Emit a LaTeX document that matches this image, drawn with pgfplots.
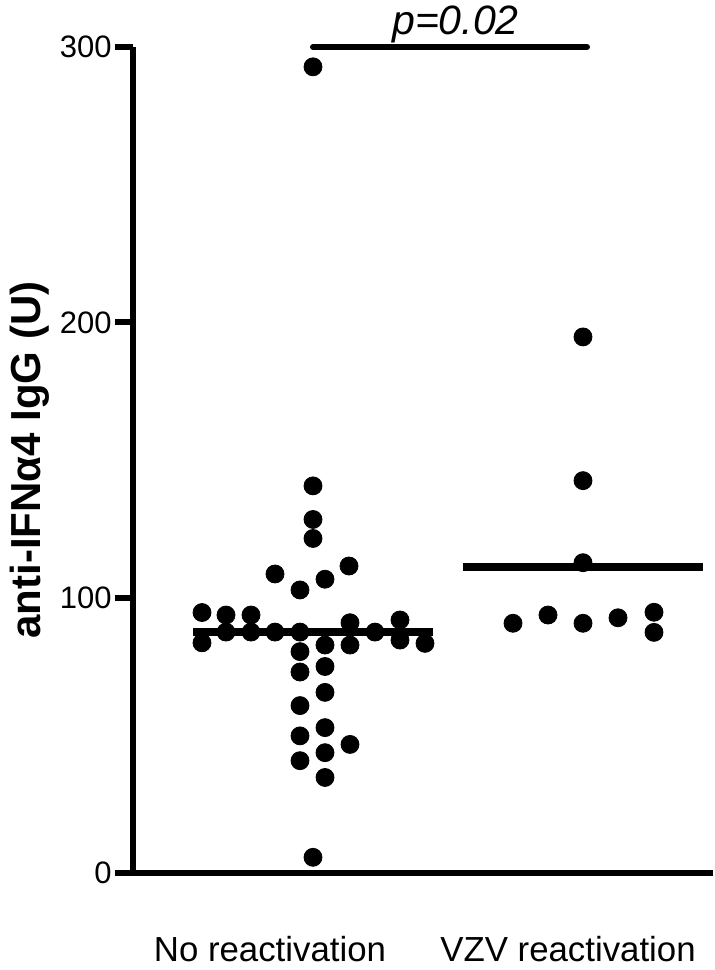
\documentclass[border=0pt]{standalone}
\usepackage{pgfplots}
\pgfplotsset{compat=1.18}
\usepackage{fontspec}
\setmainfont{Liberation Sans}
\begin{document}
\begin{tikzpicture}
\useasboundingbox (0,0) rectangle (357.5pt,485pt);
\begin{axis}[
  scale only axis, width=290pt, height=413pt,
  at={(66.5pt,48.5pt)}, anchor=south west,
  xmin=133, xmax=713, ymin=0, ymax=300,
  axis x line=bottom, axis y line=left,
  axis line style={line width=3pt, -},
  ytick={0,100,200,300},
  yticklabels={0,100,200,300},
  tick align=outside,
  major tick length=9pt,
  ytick style={line width=3pt, black},
  xtick={270,568},
  xticklabels={No reactivation, VZV reactivation},
  xtick style={draw=none},
  xticklabel style={font=\fontsize{17.4}{20}\selectfont, anchor=base, inner sep=0pt, yshift=-35pt},
  yticklabel style={font=\fontsize{15.5}{18}\selectfont, inner sep=0pt, xshift=-1.5pt},
  ylabel={\textbf{anti-IFNα4 IgG (U)}},
  ylabel style={font=\fontsize{21}{24}\selectfont, at={(axis description cs:-0.1776,0.5)}, anchor=center, rotate=0},
  clip=false,
]
% group 1 points
\addplot[only marks, mark=*, mark size=4.5pt, black] coordinates {
(313,292.8) (313,140.6) (313,128.4) (313,121.5)
(349,111.5) (275,108.6) (325,106.7) (300,102.8)
(202,94.6) (226,93.7) (251,93.7) (400,91.9) (350,90.9)
(226,87.5) (251,87.5) (275,87.5) (300,87.5) (375,87.5)
(400,84.6) (202,83.6) (425,83.4) (350,82.8) (325,82.8)
(300,80.4) (325,75.0) (300,73.0) (325,65.6) (300,60.8)
(325,52.8) (300,49.8) (350,46.7) (325,43.7) (300,40.8)
(325,34.7) (313,5.7)
};
% group 2 points
\addplot[only marks, mark=*, mark size=4.5pt, black] coordinates {
(583,194.7) (583,142.5) (583,112.7) (513,90.7) (548,93.7)
(583,90.7) (618,92.7) (654,94.7) (654,87.4)
};
% medians
\addplot[black, line width=4pt] coordinates {(193,87.5) (433,87.5)};
\addplot[black, line width=4pt] coordinates {(463,111.2) (703,111.2)};
% significance bar
\addplot[black, line width=3pt, line cap=round] coordinates {(313,300) (587,300)};
\node[anchor=base, font=\fontsize{20.5}{24}\selectfont\itshape, inner sep=0pt] at (axis cs:455.5,300) [yshift=6pt] {p=0.02};
\end{axis}
\end{tikzpicture}
\end{document}
